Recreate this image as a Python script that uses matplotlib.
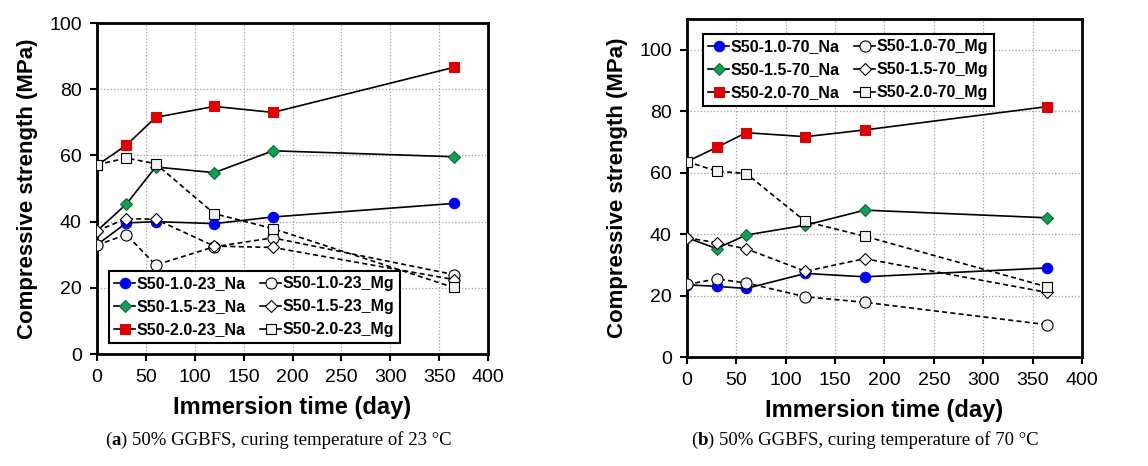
import matplotlib
matplotlib.use("Agg")
import matplotlib.pyplot as plt
import numpy as np

plt.rcParams['font.family'] = ['Liberation Sans', 'DejaVu Sans']

# immersion time (day)
days = [0, 30, 60, 120, 180, 365]

# (a) curing 23 C
na_23 = {
    '1.0': [33.0, 39.6, 40.0, 39.4, 41.4, 45.5],
    '1.5': [37.2, 45.3, 56.5, 54.8, 61.4, 59.6],
    '2.0': [57.0, 63.1, 71.5, 74.8, 73.0, 86.6],
}
mg_23 = {
    '1.0': [32.9, 36.1, 26.9, 32.4, 35.1, 24.0],
    '1.5': [37.2, 40.9, 40.7, 32.6, 32.2, 22.5],
    '2.0': [57.2, 59.2, 57.5, 42.4, 37.9, 20.1],
}

# (b) curing 70 C
na_70 = {
    '1.0': [23.5, 23.0, 22.3, 27.2, 26.1, 29.0],
    '1.5': [38.8, 35.3, 39.7, 42.9, 47.8, 45.3],
    '2.0': [63.6, 68.2, 73.0, 71.7, 73.9, 81.5],
}
mg_70 = {
    '1.0': [23.6, 25.4, 24.1, 19.6, 17.8, 10.5],
    '1.5': [38.8, 37.2, 35.2, 27.9, 32.0, 21.0],
    '2.0': [63.6, 60.5, 59.7, 44.1, 39.3, 22.8],
}

levels = ['1.0', '1.5', '2.0']
na_style = {
    '1.0': dict(marker='o', mfc='#0000ff', mec='#0000ff', ms=7.5),
    '1.5': dict(marker='D', mfc='#10a050', mec='#0d6b3a', ms=6),
    '2.0': dict(marker='s', mfc='#e00000', mec='#e00000', ms=7),
}
mg_style = {
    '1.0': dict(marker='o', mfc='#f2f2f2', mec='black', ms=8),
    '1.5': dict(marker='D', mfc='white', mec='black', ms=6),
    '2.0': dict(marker='s', mfc='#f2f2f2', mec='black', ms=7),
}


def draw_panel(ax, na, mg, temp, ymax, legend_loc, legend_anchor):
    handles = []
    for lv in levels:
        h, = ax.plot(days, na[lv], color='black', lw=1.2, ls='-', mew=0.8,
                     label='S50-%s-%s_Na' % (lv, temp), zorder=3, **na_style[lv])
        handles.append(h)
    for lv in levels:
        h, = ax.plot(days, mg[lv], color='black', lw=1.2, ls=(0, (3, 2)), mew=0.8,
                     label='S50-%s-%s_Mg' % (lv, temp), zorder=3, **mg_style[lv])
        handles.append(h)

    ax.set_xlim(0, 400)
    ax.set_ylim(0, ymax)
    ax.set_xticks(np.arange(0, 401, 50))
    ax.set_yticks(np.arange(0, 101, 20))
    ax.grid(True, color='#a0a0a0', ls=':', lw=0.9)
    ax.set_axisbelow(True)
    for s in ax.spines.values():
        s.set_linewidth(2)
    ax.tick_params(direction='out', length=5, width=1.5, labelsize=14, pad=6)
    ax.set_xlabel('Immersion time (day)', fontsize=17, fontweight='bold', labelpad=7)
    ax.set_ylabel('Compressive strength (MPa)', fontsize=16, fontweight='bold', labelpad=8)

    leg_lines = [plt.Line2D([], [], color='black', lw=1.2, ls='-', mew=0.8, **na_style[lv]) for lv in levels]
    leg_lines += [plt.Line2D([], [], color='black', lw=1.2, ls='-', mew=0.8, **mg_style[lv]) for lv in levels]
    leg = ax.legend(leg_lines, [h.get_label() for h in handles], ncol=2, loc=legend_loc,
                    bbox_to_anchor=legend_anchor, fancybox=False, framealpha=1,
                    edgecolor='black', handlelength=1.3, handletextpad=0.1,
                    columnspacing=0.9, labelspacing=0.5, borderpad=0.35,
                    prop=dict(weight='bold', size=11.5))
    leg.get_frame().set_linewidth(1.5)


fig = plt.figure(figsize=(11.48, 4.66), dpi=100)
ax1 = fig.add_axes([0.0845, 0.2403, 0.3406, 0.7103])
ax2 = fig.add_axes([0.5984, 0.2339, 0.3441, 0.7253])

draw_panel(ax1, na_23, mg_23, '23', 100, 'lower left', (0.01, 0.01))
draw_panel(ax2, na_70, mg_70, '70', 110, 'upper left', (0.02, 0.98))


def caption(x, y, letter, rest):
    serif = ['Liberation Serif', 'DejaVu Serif']
    t1 = fig.text(x, y, '(', fontsize=13.5, family=serif, va='baseline')
    t2 = fig.text(0, 0, letter, fontsize=13.5, family=serif, fontweight='bold', va='baseline')
    fig.canvas.draw()
    r = fig.canvas.get_renderer()
    bb = t1.get_window_extent(r).transformed(fig.transFigure.inverted())
    t2.set_position((bb.x1, y))
    bb2 = t2.get_window_extent(r).transformed(fig.transFigure.inverted())
    fig.text(bb2.x1, y, rest, fontsize=13.5, family=serif, va='baseline')


caption(0.092, 0.045, 'a', ') 50% GGBFS, curing temperature of 23 °C')
caption(0.602, 0.045, 'b', ') 50% GGBFS, curing temperature of 70 °C')

fig.savefig('out.png', dpi=100)
